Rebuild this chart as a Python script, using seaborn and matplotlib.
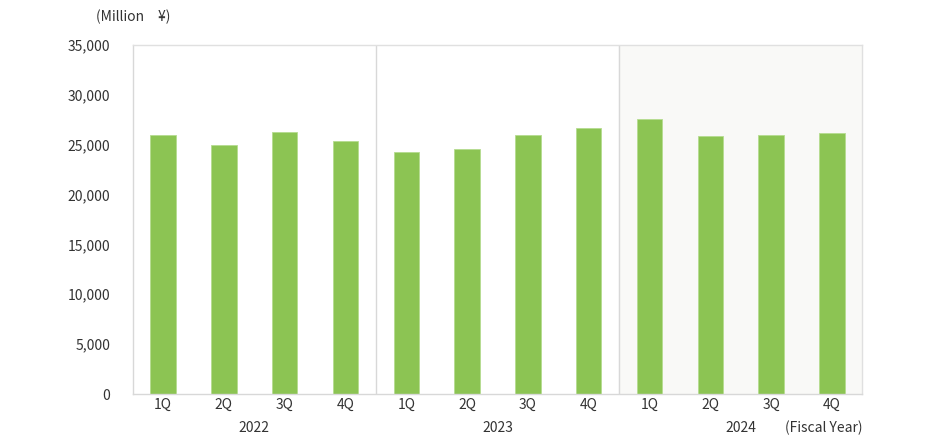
import matplotlib
matplotlib.use("Agg")
import matplotlib.pyplot as plt
import seaborn as sns
import pandas as pd

quarters = ["1Q", "2Q", "3Q", "4Q"] * 3
years = ["2022"] * 4 + ["2023"] * 4 + ["2024"] * 4
values = [25950, 24950, 26250, 25350,
          24250, 24550, 26000, 26650,
          27550, 25900, 26000, 26150]
yticks = [0, 5000, 10000, 15000, 20000, 25000, 30000, 35000]

df = pd.DataFrame({"slot": [f"{y}-{q}" for y, q in zip(years, quarters)],
                   "quarter": quarters, "year": years, "value": values})

sns.set_theme(style="white")
plt.rcParams["font.family"] = ["Noto Sans CJK JP", "DejaVu Sans"]
txt = "#333333"

fig = plt.figure(figsize=(9.3, 4.41), dpi=100)
ax = fig.add_axes([132.6 / 930, 1 - 394 / 441, (862.4 - 132.6) / 930, (394 - 45) / 441])

# shaded region for latest fiscal year
n = len(values)
ax.axvspan(7.5, n - 0.5, color="#f9f9f7", zorder=0)

sns.barplot(data=df, x="slot", y="value", color="#8cc453", width=0.42,
            saturation=1, ax=ax, zorder=2, edgecolor="#b5dc8f", linewidth=0.6)

ax.set_xlim(-0.5, n - 0.5)
ax.set_ylim(0, 35000)
ax.set_yticks(yticks)
ax.set_yticklabels([f"{v:,}" for v in yticks], fontsize=10, color=txt)
ax.set_xticks(range(n))
ax.set_xticklabels(quarters, fontsize=10, color=txt)
ax.set_xlabel("")
ax.set_ylabel("")
ax.tick_params(axis="y", direction="in", length=4, color="#d0d0d0", pad=16)
ax.tick_params(axis="x", length=0, pad=3)

for s in ax.spines.values():
    s.set_color("#e0e0e0")
    s.set_linewidth(1)
ax.spines["left"].set_color("#d8d8d8")
ax.spines["bottom"].set_color("#d8d8d8")

for xv in [3.5, 7.5]:
    ax.axvline(xv, color="#d8d8d8", linewidth=1, zorder=1)

# year labels
for i, yr in enumerate(["2022", "2023", "2024"]):
    ax.text(i * 4 + 1.5, -0.097, yr, transform=ax.get_xaxis_transform(),
            ha="center", va="center", fontsize=10, color=txt)
ax.text(n - 0.5, -0.097, "(Fiscal Year)", transform=ax.get_xaxis_transform(),
        ha="right", va="center", fontsize=10, color=txt)

fig.text(96 / 930, 1 - 17 / 441, "(Million　¥)", ha="left", va="center",
         fontsize=10, color=txt)

fig.savefig("out.png", dpi=100)
